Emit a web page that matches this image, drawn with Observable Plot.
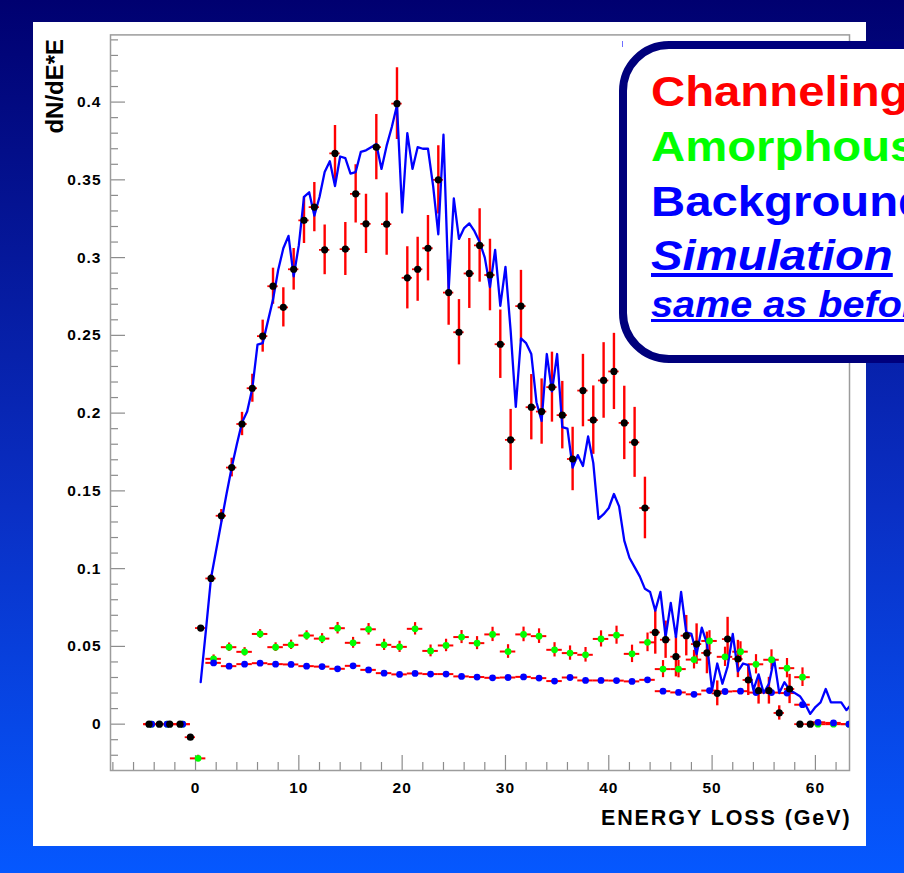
<!DOCTYPE html>
<html><head><meta charset="utf-8">
<script src="https://cdn.jsdelivr.net/npm/d3@7"></script>
<script src="https://cdn.jsdelivr.net/npm/@observablehq/plot@0.6"></script>
<style>
html,body{margin:0;padding:0;}
body{width:904px;height:873px;overflow:hidden;position:relative;
  background:linear-gradient(to bottom,#000070 0%,#0a2fc4 58%,#0558ff 100%);
  font-family:"Liberation Sans",Arial,Helvetica,sans-serif;}
#panel{position:absolute;left:33px;top:22px;width:833px;height:824px;background:#fff;}
#chart{position:absolute;left:0;top:0;}
#chart svg g[aria-label="y-axis tick label"] text,
#chart svg g[aria-label="x-axis tick label"] text{letter-spacing:1px;}
#chart svg text[aria-label="xtitle"]{letter-spacing:1.9px;}
#mark{position:absolute;left:622px;top:41px;width:1px;height:6px;background:#6f6fff;}
#box{position:absolute;left:619px;top:41px;width:420px;height:306px;border:8px solid #00007c;border-radius:50px;background:#fff;}
.ln{position:absolute;left:651px;font-weight:bold;white-space:nowrap;transform-origin:0 0;transform:scaleX(1.1);line-height:1;}
</style></head>
<body>
<div id="panel"></div>
<div id="chart"></div>
<div id="mark"></div>
<div id="box"></div>
<div class="ln" style="top:69.5px;font-size:43px;color:#ff0000;">Channeling</div>
<div class="ln" style="top:125px;font-size:43px;color:#00ff00;">Amorphous</div>
<div class="ln" style="top:179.5px;font-size:43px;color:#0000ff;">Background</div>
<div class="ln" style="top:233.5px;font-size:43px;color:#0000ff;font-style:italic;text-decoration:underline;">Simulation</div>
<div class="ln" style="top:287px;font-size:36px;color:#0000ff;font-style:italic;text-decoration:underline;">same as before</div>
<script>
// ---- Channeling data (1 GeV bins) ----
const chanE = [-4.5,-3.5,-2.5,-1.5,-0.5,0.5,1.5,2.5,3.5,4.5,5.5,6.5,7.5,8.5,9.5,10.5,11.5,12.5,13.5,14.5,15.5,16.5,17.5,18.5,19.5,20.5,21.5,22.5,23.5,24.5,25.5,26.5,27.5,28.5,29.5,30.5,31.5,32.5,33.5,34.5,35.5,36.5,37.5,38.5,39.5,40.5,41.5,42.5,43.5,44.5,45.5,46.5,47.5,48.5,49.5,50.5,51.5,52.5,53.5,54.5,55.5,56.5,57.5,58.5,59.5];
const chanV = [0,0,0,0,-0.0084,0.0618,0.0937,0.134,0.165,0.193,0.216,0.2495,0.2816,0.268,0.2925,0.324,0.3325,0.305,0.367,0.3055,0.341,0.3217,0.371,0.3215,0.399,0.287,0.2925,0.306,0.350,0.2775,0.252,0.2898,0.3078,0.2888,0.2443,0.1828,0.2688,0.2038,0.201,0.2167,0.1987,0.1705,0.2145,0.1955,0.221,0.2268,0.1937,0.1812,0.139,0.059,0.0543,0.0434,0.0569,0.0515,0.0458,0.0198,0.0547,0.0419,0.0284,0.0215,0.0215,0.0072,0.0226,0,0];
const chanErr = [0,0,0,0,0.001,0.0015,0.0025,0.004,0.006,0.0075,0.009,0.0103,0.0116,0.0126,0.0134,0.015,0.0158,0.016,0.018,0.017,0.0187,0.019,0.021,0.02,0.023,0.02,0.0206,0.021,0.022,0.021,0.021,0.0225,0.0236,0.023,0.022,0.0196,0.023,0.021,0.021,0.0225,0.0217,0.0204,0.0233,0.022,0.0243,0.0245,0.0236,0.0225,0.0198,0.014,0.012,0.013,0.013,0.013,0.0134,0.008,0.014,0.012,0.010,0.0086,0.0086,0.0046,0.0094,0,0];

// ---- Amorphous & Background (1.5 GeV bins) ----
const abE = [-4.25,-2.75,-1.25,0.25,1.75,3.25,4.75,6.25,7.75,9.25,10.75,12.25,13.75,15.25,16.75,18.25,19.75,21.25,22.75,24.25,25.75,27.25,28.75,30.25,31.75,33.25,34.75,36.25,37.75,39.25,40.75,42.25,43.75,45.25,46.75,48.25,49.75,51.25,52.75,54.25,55.75,57.25,58.75,60.25,61.75,63.25];
const amoV = [0,0,0,-0.022,0.042,0.0495,0.0465,0.058,0.0495,0.051,0.057,0.055,0.0617,0.0523,0.061,0.051,0.0497,0.0613,0.0471,0.0506,0.056,0.0521,0.0577,0.0467,0.0577,0.0566,0.0478,0.0457,0.0446,0.0548,0.0572,0.0452,0.0526,0.0354,0.0354,0.0415,0.0535,0.0433,0.0466,0.0385,0.0414,0.036,0.0302,0,0,0];
const amoErr = [0,0,0,0.002,0.0025,0.0027,0.0027,0.0028,0.0028,0.003,0.003,0.0032,0.0037,0.0035,0.0037,0.0036,0.0036,0.004,0.0038,0.004,0.0042,0.0042,0.0046,0.0044,0.0047,0.0047,0.0046,0.0046,0.0047,0.0052,0.0058,0.0056,0.006,0.0055,0.0056,0.006,0.0066,0.0062,0.0064,0.0062,0.0064,0.0062,0.006,0,0,0];
const bkgV = [0,0,0,null,0.0394,0.0373,0.0386,0.0392,0.0386,0.0384,0.0373,0.037,0.0356,0.0375,0.0349,0.0328,0.032,0.0326,0.0322,0.0322,0.0307,0.0303,0.0298,0.030,0.0304,0.0296,0.0277,0.030,0.0281,0.0281,0.028,0.0275,0.0285,0.0212,0.0204,0.0192,0.0216,0.021,0.0212,0.0203,0.0203,0.020,0.0125,0.0012,0.0008,0];
const bkgErr = [0,0,0,0,0.001,0.001,0.001,0.001,0.001,0.001,0.001,0.001,0.001,0.001,0.001,0.001,0.001,0.001,0.001,0.001,0.001,0.001,0.001,0.001,0.001,0.001,0.001,0.001,0.001,0.001,0.001,0.001,0.001,0.0012,0.0012,0.0012,0.0012,0.0012,0.0012,0.0012,0.0012,0.0012,0.001,0,0,0];

// ---- Simulation (0.5 GeV bins) ----
const simE = [0.5,1,1.5,2,2.5,3,3.5,4,4.5,5,5.5,6,6.5,7,7.5,8,8.5,9,9.5,10,10.5,11,11.5,12,12.5,13,13.5,14,14.5,15,15.5,16,16.5,17,17.5,18,18.5,19,19.5,20,20.5,21,21.5,22,22.5,23,23.5,24,24.5,25,25.5,26,26.5,27,27.5,28,28.5,29,29.5,30,30.5,31,31.5,32,32.5,33,33.5,34,34.5,35,35.5,36,36.5,37,37.5,38,38.5,39,39.5,40,40.5,41,41.5,42,42.5,43,43.5,44,44.5,45,45.5,46,46.5,47,47.5,48,48.5,49,49.5,50,50.5,51,51.5,52,52.5,53,53.5,54,54.5,55,55.5,56,56.5,57,57.5,58,58.5,59,59.5,60,60.5,61,61.5,62,62.5,63,63.5];
const simV = [0.027,0.060,0.094,0.112,0.130,0.148,0.165,0.180,0.194,0.201,0.216,0.244,0.245,0.259,0.273,0.292,0.306,0.314,0.288,0.308,0.339,0.342,0.327,0.339,0.355,0.362,0.346,0.365,0.364,0.354,0.355,0.368,0.369,0.371,0.373,0.357,0.372,0.384,0.398,0.329,0.380,0.357,0.371,0.370,0.370,0.346,0.315,0.379,0.279,0.338,0.312,0.319,0.322,0.317,0.310,0.300,0.281,0.305,0.269,0.294,0.253,0.204,0.248,0.245,0.238,0.207,0.195,0.238,0.214,0.238,0.191,0.190,0.165,0.173,0.166,0.185,0.168,0.132,0.135,0.139,0.148,0.140,0.118,0.107,0.101,0.095,0.087,0.085,0.073,0.085,0.056,0.078,0.056,0.085,0.059,0.058,0.045,0.062,0.052,0.022,0.039,0.026,0.037,0.058,0.034,0.039,0.038,0.022,0.032,0.020,0.026,0.042,0.020,0.027,0.022,0.020,0.018,0.013,0.0066,0.011,0.014,0.0226,0.014,0.014,0.014,0.009,0.013];

// ---- Axis ticks & labels ----
const xMajor = [0,10,20,30,40,50,60];
const yMajor = [0,0.05,0.1,0.15,0.2,0.25,0.3,0.35,0.4];
const yLabels = ["0","0.05","0.1","0.15","0.2","0.25","0.3","0.35","0.4"];
const xMinor = d3.range(-8, 64, 2).filter(v => v % 10 !== 0);
const yMinor = d3.range(-2, 45, 1).filter(v => v % 5 !== 0).map(v => v / 100);
const xTitle = "ENERGY LOSS (GeV)";
const yTitle = "dN/dE*E";

const chan = chanE.map((E, i) => ({E, v: chanV[i], e: chanErr[i]}));
const amo = abE.map((E, i) => ({E, v: amoV[i], e: amoErr[i]})).filter(d => d.v != null);
const bkg = abE.map((E, i) => ({E, v: bkgV[i], e: bkgErr[i]})).filter(d => d.v != null);
const sim = simE.map((E, i) => ({E, v: simV[i]}));

const W = 904, H = 873, mL = 110, mR = 55, mT = 34.4, mB = 103;
const pW = W - mL - mR, pH = H - mT - mB;
const RED = "#ff0000", TICK = "#8c8c8c";

const chart = Plot.plot({
  width: W, height: H,
  marginLeft: mL, marginRight: mR, marginTop: mT, marginBottom: mB,
  style: {background: "transparent", color: "#000", fontFamily: "'Liberation Sans', Arial, sans-serif", fontWeight: "bold", overflow: "visible"},
  x: {domain: [-8.23, 63.3]},
  y: {domain: [-0.0298, 0.4432]},
  marks: [
    Plot.ruleY(yMinor, {y: d => d, stroke: TICK, strokeWidth: 1.2, insetRight: pW - 8}),
    Plot.ruleY(yMajor, {y: d => d, stroke: TICK, strokeWidth: 1.2, insetRight: pW - 15}),
    Plot.ruleX(xMinor, {x: d => d, stroke: TICK, strokeWidth: 1.2, insetTop: pH - 8}),
    Plot.ruleX(xMajor, {x: d => d, stroke: TICK, strokeWidth: 1.2, insetTop: pH - 15}),
    Plot.frame({stroke: "#9c9c9c", strokeWidth: 1.5}),
    Plot.axisY({ticks: yMajor, tickSize: 0, tickPadding: 9, fontSize: 15.5, tickFormat: d => yLabels[yMajor.indexOf(d)], label: null}),
    Plot.axisX({ticks: xMajor, tickSize: 0, tickPadding: 11, fontSize: 15.5, tickFormat: d => String(d), label: null}),
    Plot.text([yTitle], {text: d => d, frameAnchor: "top-left", dx: -55.5, dy: 4, rotate: -90, textAnchor: "end", lineAnchor: "middle", fontSize: 24, fontWeight: "bold"}),
    Plot.text([xTitle], {text: d => d, frameAnchor: "bottom-right", dx: 2, dy: 48, textAnchor: "end", lineAnchor: "middle", fontSize: 21.5, fontWeight: "bold", ariaLabel: () => "xtitle"}),
    Plot.ruleY(bkg, {y: "v", x1: d => d.E - 0.75, x2: d => d.E + 0.75, stroke: RED, strokeWidth: 2, clip: true}),
    Plot.ruleY(amo, {y: "v", x1: d => d.E - 0.75, x2: d => d.E + 0.75, stroke: RED, strokeWidth: 2, clip: true}),
    Plot.ruleX(amo.filter(d => d.e > 0), {x: "E", y1: d => d.v - d.e, y2: d => d.v + d.e, stroke: RED, strokeWidth: 2.2, clip: true}),
    Plot.ruleY(chan, {y: "v", x1: d => d.E - 0.5, x2: d => d.E + 0.5, stroke: RED, strokeWidth: 1.8, clip: true}),
    Plot.ruleX(chan.filter(d => d.e > 0), {x: "E", y1: d => d.v - d.e, y2: d => d.v + d.e, stroke: RED, strokeWidth: 2.4, clip: true}),
    Plot.line(sim, {x: "E", y: "v", stroke: "#0000ff", strokeWidth: 2.3, clip: true}),
    Plot.dot(amo, {x: "E", y: "v", r: 3.4, fill: "#00ff00", stroke: "none", clip: true}),
    Plot.dot(bkg, {x: "E", y: "v", r: 3.4, fill: "#0000ff", stroke: "none", clip: true}),
    Plot.dot(chan, {x: "E", y: "v", r: 3.6, fill: "#000000", stroke: "none", clip: true})
  ]
});
document.getElementById("chart").appendChild(chart);
</script>
</body></html>
